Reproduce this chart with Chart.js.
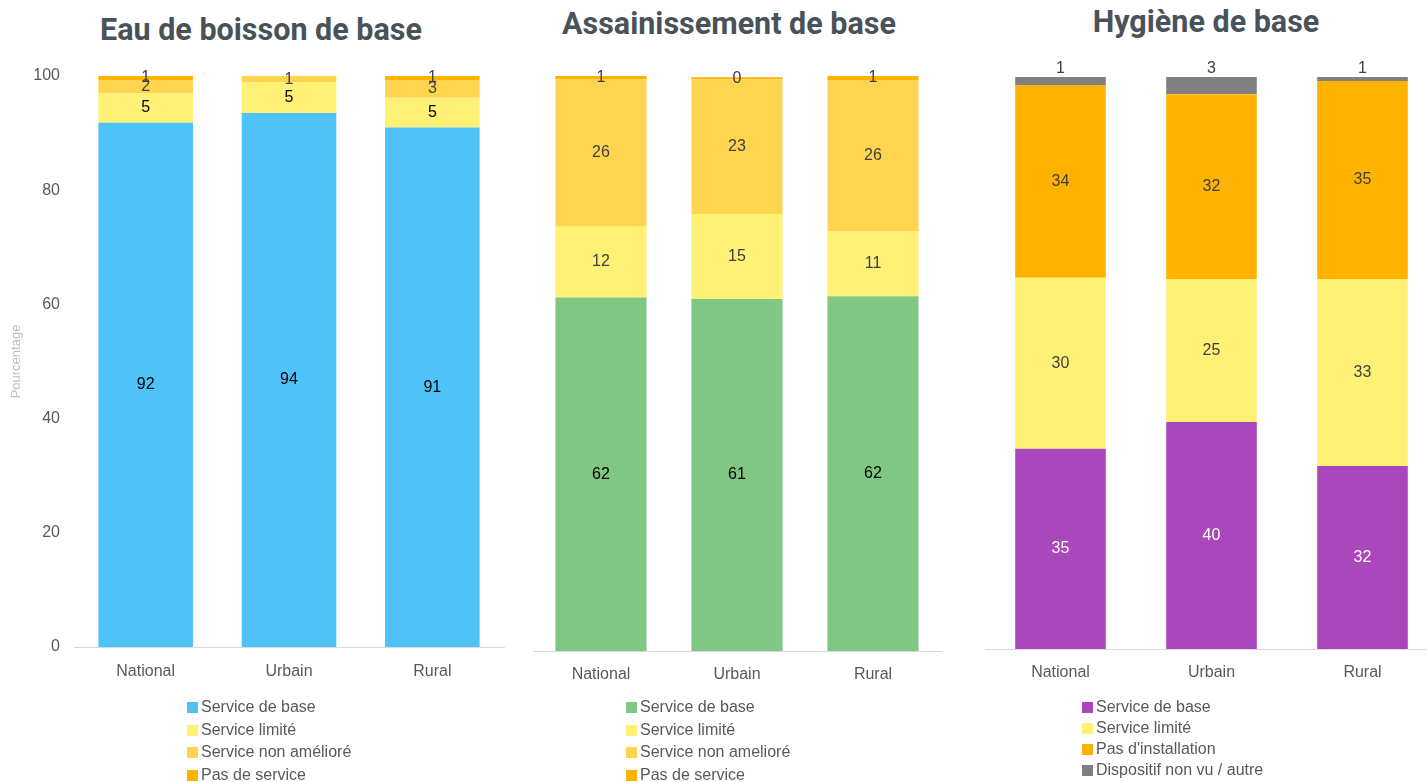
<!DOCTYPE html>
<html>
<head>
<meta charset="utf-8">
<script src="https://cdn.jsdelivr.net/npm/chart.js@4.4.0/dist/chart.umd.min.js"></script>
<style>
    html, body { margin: 0; padding: 0; background: #fff; width: 1427px; height: 782px; overflow: hidden; }
    .panel { position: absolute; top: 0; }
    .title { position: absolute; font-family: Roboto, "Liberation Sans", sans-serif; font-weight: 700; font-size: 30.5px; color: #4a5259; white-space: nowrap; transform: translateX(-50%); }
    .legend { position: absolute; font-family: "Liberation Sans", Arial, sans-serif; font-size: 16px; color: #595959; }
    .legend div { white-space: nowrap; }
    .legend span { display: inline-block; width: 11px; height: 11px; margin-right: 3px; vertical-align: -1px; }
</style>
</head>
<body>
<div class="title" style="left:261px; top:12px;">Eau de boisson de base</div>
<div class="title" style="left:729px; top:6px;">Assainissement de base</div>
<div class="title" style="left:1206px; top:4px;">Hygiène de base</div>

<canvas id="c1" class="panel" style="left:0px;"></canvas>
<canvas id="c2" class="panel" style="left:510px;"></canvas>
<canvas id="c3" class="panel" style="left:960px;"></canvas>

<div id="lg1" class="legend" style="left:187px; top:696px;"></div>
<div id="lg2" class="legend" style="left:626px; top:696px;"></div>
<div id="lg3" class="legend" style="left:1082px; top:696px;"></div>

<script>
    // Données (en %)
    var categories = ['National', 'Urbain', 'Rural'];
    var yTicks = [0, 20, 40, 60, 80, 100];

    // Eau de boisson
    var eauSeries = ['Service de base', 'Service limité', 'Service non amélioré', 'Pas de service'];
    var eauBase = [91.8, 93.5, 91.0];
    var eauLimite = [5.2, 5.4, 5.2];
    var eauNonAmeliore = [2.3, 1.1, 3.1];
    var eauPasService = [0.7, 0, 0.7];

    // Assainissement
    var assSeries = ['Service de base', 'Service limité', 'Service non amelioré', 'Pas de service'];
    var assBase = [61.5, 61.2, 61.7];
    var assLimite = [12.3, 14.8, 11.3];
    var assNonAmeliore = [25.6, 23.4, 26.3];
    var assPasService = [0.6, 0.4, 0.7];

    // Hygiène
    var hygSeries = ['Service de base', 'Service limité', "Pas d'installation", 'Dispositif non vu / autre'];
    var hygBase = [35.0, 39.7, 32.0];
    var hygLimite = [29.9, 25.0, 32.7];
    var hygPasInstall = [33.7, 32.3, 34.6];
    var hygNonVu = [1.4, 3.0, 0.7];

    var FONT = '"Liberation Sans", Arial, sans-serif';

    // Étiquettes de valeurs au centre des segments
    var segLabels = {
        id: 'segLabels',
        afterDatasetsDraw: function(chart) {
            var ctx = chart.ctx;
            ctx.save();
            ctx.font = '16px ' + FONT;
            ctx.textAlign = 'center';
            ctx.textBaseline = 'middle';
            chart.data.datasets.forEach(function(ds, i) {
                var meta = chart.getDatasetMeta(i);
                meta.data.forEach(function(bar, j) {
                    var v = ds.data[j];
                    if (!v && !ds.showZero) return;
                    var y = (bar.y + bar.base) / 2;
                    if (ds.labelAbove) y = bar.y - 8;
                    ctx.fillStyle = ds.labelColor;
                    ctx.fillText(Math.round(v), bar.x, y);
                });
            });
            ctx.restore();
        }
    };

    function makeChart(id, w, h, pad, showY, labels, series, colors, labelColors, extra) {
        var cv = document.getElementById(id);
        cv.width = w; cv.height = h;
        cv.style.width = w + 'px'; cv.style.height = h + 'px';
        var datasets = series.map(function(d, i) {
            var ds = {
                label: labels[i],
                data: d,
                backgroundColor: colors[i],
                borderWidth: 0,
                barPercentage: extra.barPct,
                categoryPercentage: 1,
                labelColor: labelColors[i],
                showZero: extra.showZero
            };
            if (extra.aboveLast && i === series.length - 1) ds.labelAbove = true;
            return ds;
        });
        return new Chart(cv.getContext('2d'), {
            type: 'bar',
            data: { labels: categories, datasets: datasets },
            options: {
                responsive: false,
                animation: false,
                layout: { padding: pad },
                plugins: { legend: { display: false }, tooltip: { enabled: false } },
                scales: {
                    x: {
                        stacked: true,
                        grid: { display: false },
                        border: { display: true, color: '#d9d9d9', width: 1 },
                        ticks: { color: '#595959', font: { family: FONT, size: 16 }, padding: extra.tickPad },
                        afterFit: function(s) { s.height = 40; }
                    },
                    y: {
                        stacked: true,
                        display: showY,
                        min: 0, max: 100,
                        afterBuildTicks: function(s) { s.ticks = yTicks.map(function(v) { return { value: v }; }); },
                        grid: { display: false },
                        border: { display: false },
                        ticks: { color: '#595959', font: { family: FONT, size: 16 }, padding: 6 },
                        title: { display: showY, text: 'Pourcentage', color: '#bfbfbf', font: { family: FONT, size: 13 }, padding: 0 },
                        afterFit: function(s) { s.width = showY ? 65 : 0; }
                    }
                }
            },
            plugins: [segLabels]
        });
    }

    function makeLegend(id, labels, colors, rowH) {
        var el = document.getElementById(id);
        labels.forEach(function(l, i) {
            var row = document.createElement('div');
            row.style.height = rowH + 'px';
            row.style.lineHeight = rowH + 'px';
            row.innerHTML = '<span style="background:' + colors[i] + '"></span>' + l;
            el.appendChild(row);
        });
    }

    var eauColors = ['#4FC3F7', '#FFF176', '#FFD54F', '#FFB300'];
    var assColors = ['#81C784', '#FFF176', '#FFD54F', '#FFB300'];
    var hygColors = ['#AB47BC', '#FFF176', '#FFB300', '#808080'];

    // Chart 1: zone 74..504 x 76..647
    makeChart('c1', 520, 700, { top: 76, left: 9, right: 16, bottom: 13 }, true,
        eauSeries, [eauBase, eauLimite, eauNonAmeliore, eauPasService], eauColors,
        ['#000000', '#000000', '#404040', '#404040'], { barPct: 0.66, showZero: false, tickPad: 7 });

    // Chart 2: zone 533..941 x 76..651 (canvas left 510)
    makeChart('c2', 450, 700, { top: 76, left: 23, right: 19, bottom: 9 }, false,
        assSeries, [assBase, assLimite, assNonAmeliore, assPasService], assColors,
        ['#000000', '#404040', '#404040', '#404040'], { barPct: 0.67, showZero: true, tickPad: 6 });

    // Chart 3: zone 985..1438 x 77..649 (canvas left 960)
    makeChart('c3', 490, 700, { top: 77, left: 25, right: 12, bottom: 11 }, false,
        hygSeries, [hygBase, hygLimite, hygPasInstall, hygNonVu], hygColors,
        ['#ffffff', '#404040', '#404040', '#404040'], { barPct: 0.6, showZero: false, aboveLast: true, tickPad: 6 });

    makeLegend('lg1', eauSeries, eauColors, 22.6);
    makeLegend('lg2', assSeries, assColors, 22.6);
    makeLegend('lg3', hygSeries, hygColors, 21);
</script>
</body>
</html>
